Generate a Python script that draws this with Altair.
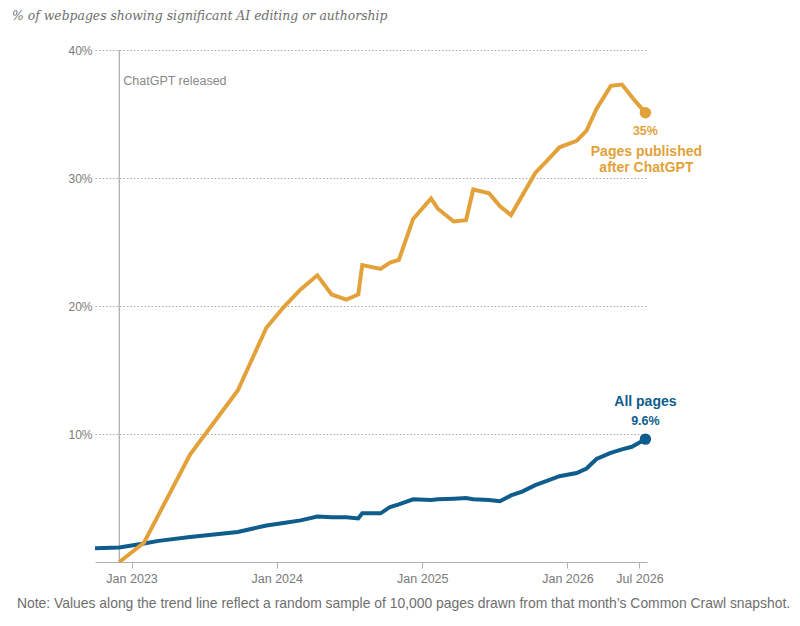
import altair as alt
import pandas as pd

# ---- data ----
all_dates = ["2022-10-01", "2022-12-01", "2023-02-01", "2023-03-10", "2023-05-28",
             "2023-09-25", "2023-12-06", "2024-01-18", "2024-03-01", "2024-04-12",
             "2024-05-18", "2024-06-24", "2024-07-24", "2024-08-03", "2024-09-18",
             "2024-10-12", "2024-11-03", "2024-12-09", "2025-01-23", "2025-02-09",
             "2025-03-21", "2025-04-21", "2025-05-09", "2025-06-18", "2025-07-15",
             "2025-08-12", "2025-09-09", "2025-10-12", "2025-11-12", "2025-12-12",
             "2026-01-24", "2026-02-18", "2026-03-15", "2026-04-18", "2026-05-18",
             "2026-06-12", "2026-07-16"]
all_values = [1.08, 1.14, 1.45, 1.65, 1.95,
              2.35, 2.85, 3.05, 3.25, 3.55,
              3.5, 3.5, 3.4, 3.8, 3.8,
              4.3, 4.5, 4.9, 4.85, 4.9,
              4.95, 5.0, 4.9, 4.85, 4.75,
              5.2, 5.5, 6.0, 6.35, 6.7,
              6.95, 7.3, 8.05, 8.5, 8.8,
              9.0, 9.6]

post_dates = ["2022-12-01", "2023-02-01", "2023-03-10", "2023-05-28", "2023-09-25",
              "2023-12-06", "2024-01-18", "2024-03-01", "2024-04-12", "2024-05-18",
              "2024-06-24", "2024-07-24", "2024-08-03", "2024-09-18", "2024-10-12",
              "2024-11-03", "2024-12-09", "2025-01-23", "2025-02-09", "2025-03-21",
              "2025-04-21", "2025-05-09", "2025-06-18", "2025-07-15", "2025-08-12",
              "2025-10-12", "2025-11-12", "2025-12-12", "2026-01-24", "2026-02-18",
              "2026-03-15", "2026-04-20", "2026-05-18", "2026-06-18", "2026-07-16"]
post_values = [0.0, 1.5, 3.7, 8.4, 13.4,
               18.3, 19.9, 21.3, 22.4, 20.9,
               20.5, 20.9, 23.2, 22.9, 23.4,
               23.6, 26.8, 28.4, 27.6, 26.6,
               26.7, 29.1, 28.8, 27.8, 27.1,
               30.4, 31.4, 32.4, 32.9, 33.7,
               35.4, 37.2, 37.3, 36.1, 35.1]

series_names = ["All pages", "Pages published after ChatGPT"]
series_colors = ["#0f5d8c", "#e3a13a"]

release_date = "2022-12-01"
release_label = "ChatGPT released"
y_ticks = [10, 20, 30, 40]
x_tick_dates = [(2023, 1), (2024, 1), (2025, 1), (2026, 1), (2026, 7)]

title_text = "% of webpages showing significant AI editing or authorship"
note_text = ("Note: Values along the trend line reflect a random sample of 10,000 pages "
             "drawn from that month\u2019s Common Crawl snapshot.")

# ---- tables ----
df = pd.concat([
    pd.DataFrame({"date": all_dates, "value": all_values, "series": series_names[0]}),
    pd.DataFrame({"date": post_dates, "value": post_values, "series": series_names[1]}),
], ignore_index=True)

ends = pd.DataFrame({
    "date": [all_dates[-1], post_dates[-1]],
    "value": [all_values[-1], post_values[-1]],
    "series": series_names,
    "pct": [f"{all_values[-1]:.1f}%", f"{round(post_values[-1]):.0f}%"],
})
end_all = ends[ends.series == series_names[0]]
end_post = ends[ends.series == series_names[1]]

release = pd.DataFrame({"date": [release_date], "lo": [0], "hi": [40], "label": [release_label]})

SANS = "Liberation Sans, Arial, sans-serif"
BOLD = "Liberation Sans Narrow, Liberation Sans, Arial, sans-serif"

x_scale = alt.Scale(type="utc",
                    domain=[alt.DateTime(year=2022, month=10, date=1, utc=True),
                            alt.DateTime(year=2026, month=7, date=20, utc=True)])
y_scale = alt.Scale(domain=[0, 40], nice=False)
color_scale = alt.Scale(domain=series_names, range=series_colors)

x_axis = alt.Axis(values=[alt.DateTime(year=y, month=m, date=1, utc=True) for y, m in x_tick_dates],
                  format="%b %Y", grid=False, domainColor="#b0b0b0", tickColor="#b0b0b0",
                  tickSize=6, labelColor="#7a7a7a", labelFont=SANS, labelFontSize=12.5,
                  labelPadding=4, title=None)
y_axis = alt.Axis(values=y_ticks, labelExpr="datum.value + '%'", domain=False, ticks=False,
                  gridColor="#a8a8a8", gridDash=[1.5, 2], gridWidth=1,
                  labelColor="#7a7a7a", labelFont=SANS, labelFontSize=12, labelPadding=3,
                  title=None)

X = alt.X("date:T", scale=x_scale, axis=x_axis)
Y = alt.Y("value:Q", scale=y_scale, axis=y_axis)

rule = alt.Chart(release).mark_rule(color="#a8a8a8", strokeWidth=1.2).encode(
    x=alt.X("date:T", scale=x_scale), y=alt.Y("lo:Q", scale=y_scale), y2="hi:Q")
rule_text = alt.Chart(release).mark_text(align="left", baseline="middle", dx=4,
                                         font=SANS, fontSize=12.5, color="#888888").encode(
    x=alt.X("date:T", scale=x_scale), y=alt.value(31), text="label:N")

lines = alt.Chart(df).mark_line(strokeWidth=4, clip=True).encode(
    x=X, y=Y, color=alt.Color("series:N", scale=color_scale, legend=None), detail="series:N")

dots = alt.Chart(ends).mark_circle(size=130, opacity=1).encode(
    x=alt.X("date:T", scale=x_scale), y=alt.Y("value:Q", scale=y_scale),
    color=alt.Color("series:N", scale=color_scale, legend=None))

post_pct = alt.Chart(end_post).mark_text(dy=18, baseline="middle", align="center",
                                         font=BOLD, fontWeight="bold", fontSize=12.5,
                                         color=series_colors[1]).encode(
    x=alt.X("date:T", scale=x_scale), y=alt.Y("value:Q", scale=y_scale), text="pct:N")
post_name = alt.Chart(end_post).mark_text(dy=32, dx=1, baseline="top", align="center",
                                          lineBreak="\n", lineHeight=16,
                                          font=BOLD, fontWeight="bold", fontSize=14,
                                          color=series_colors[1]).encode(
    x=alt.X("date:T", scale=x_scale), y=alt.Y("value:Q", scale=y_scale),
    text=alt.value("Pages published\nafter ChatGPT"))

all_name = alt.Chart(end_all).mark_text(dy=-37, baseline="middle", align="center",
                                        font=BOLD, fontWeight="bold", fontSize=14,
                                        color=series_colors[0]).encode(
    x=alt.X("date:T", scale=x_scale), y=alt.Y("value:Q", scale=y_scale), text="series:N")
all_pct = alt.Chart(end_all).mark_text(dy=-18, baseline="middle", align="center",
                                       font=BOLD, fontWeight="bold", fontSize=12.5,
                                       color=series_colors[0]).encode(
    x=alt.X("date:T", scale=x_scale), y=alt.Y("value:Q", scale=y_scale), text="pct:N")

note = alt.Chart(alt.Data(values=[{"t": note_text}])).mark_text(
    align="left", baseline="middle", font=SANS, fontSize=13.9, color="#6e6e6e").encode(
    x=alt.value(-78), y=alt.value(554), text="t:N")

chart = alt.layer(rule, lines, rule_text, dots, post_pct, post_name, all_name, all_pct, note).properties(
    width=552, height=512,
    autosize=alt.AutoSizeParams(type="none"),
    padding={"left": 87, "top": 42, "right": 145, "bottom": 56},
    title=alt.TitleParams(text=title_text, anchor="start", frame="group", dx=-83, offset=22,
                          font="DejaVu Serif", fontStyle="italic", fontWeight="normal",
                          fontSize=12.4, color="#6e6e6e"),
).configure_view(stroke=None)

chart.save("out.html", embed_options={"renderer": "svg", "actions": False})
